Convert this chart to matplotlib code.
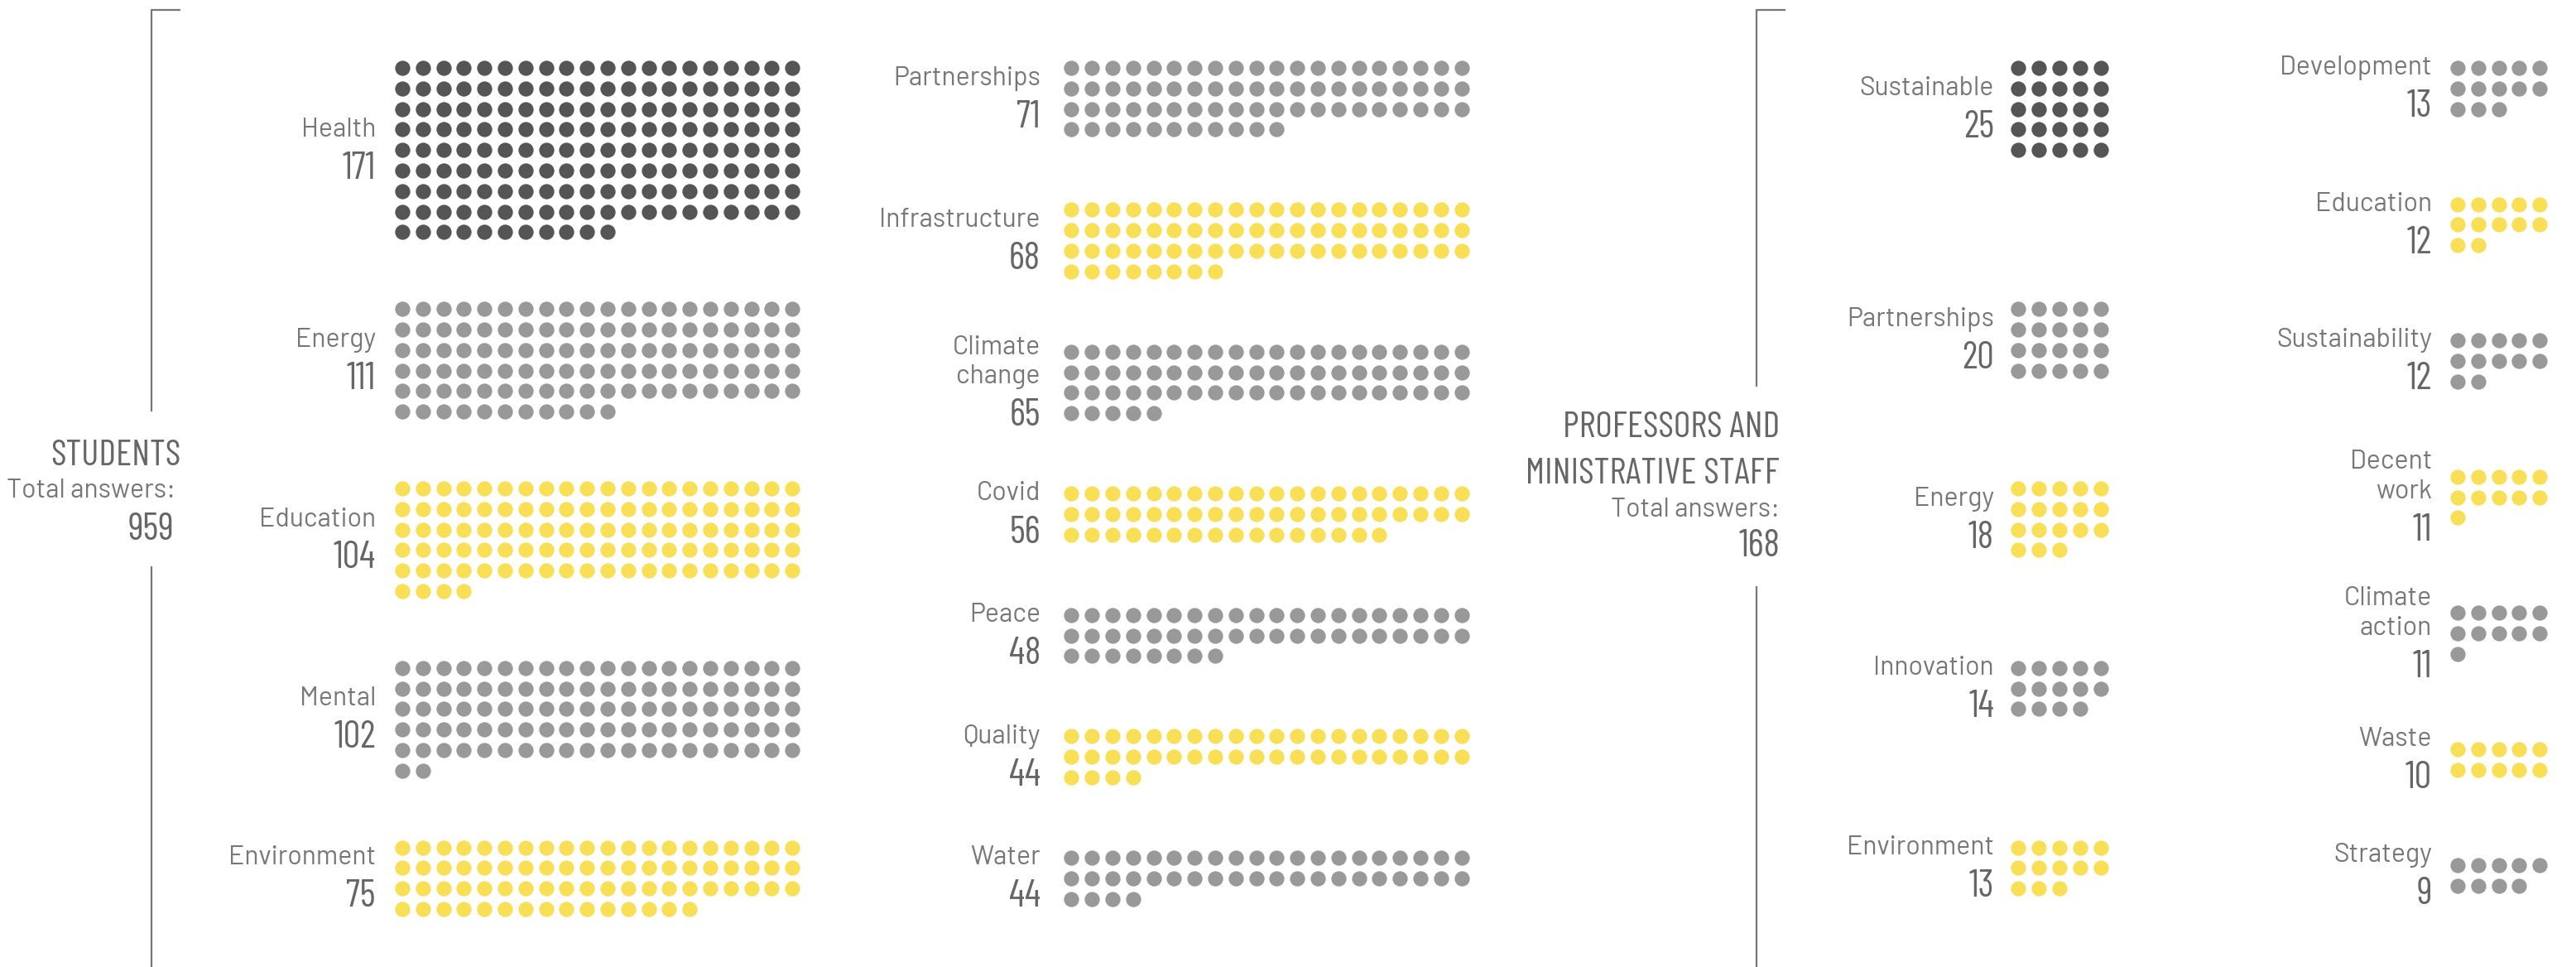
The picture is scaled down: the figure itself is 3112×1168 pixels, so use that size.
import matplotlib
matplotlib.use("Agg")
import numpy as np
import matplotlib.pyplot as plt
from matplotlib.patches import Rectangle

# data
students_labels = ["Health", "Energy", "Education", "Mental", "Environment",
                   "Partnerships", "Infrastructure", "Climate\nchange", "Covid",
                   "Peace", "Quality", "Water"]
students_values = [171, 111, 104, 102, 75, 71, 68, 65, 56, 48, 44, 44]
students_total = 959

staff_labels = ["Sustainable", "Partnerships", "Energy", "Innovation", "Environment",
                "Development", "Education", "Sustainability", "Decent\nwork",
                "Climate\naction", "Waste", "Strategy"]
staff_values = [25, 20, 18, 14, 13, 13, 12, 12, 11, 11, 10, 9]
staff_total = 168

# style
DARK = "#555555"
GRAY = "#999999"
YELLOW = "#f8df55"
LABEL_C = "#777777"
NUM_C = "#666666"
LINE_C = "#777777"
COND = ["Barlow Condensed", "Liberation Sans Narrow", "DejaVu Sans"]
REG = ["Barlow", "Roboto", "DejaVu Sans"]

W, H = 3112, 1168
PITCH = 24.8
DOT_S = 174


def dot_color(rank):
    if rank == 0:
        return DARK
    return GRAY if rank % 2 == 1 else YELLOW


def draw_block(ax, value, x0, top, per_row, color):
    idx = np.arange(value)
    xs = x0 + (idx % per_row) * PITCH
    ys = top + (idx // per_row) * PITCH
    ax.scatter(xs, ys, s=DOT_S, color=color, linewidths=0)
    return ys.max()


def draw_label(ax, text, value, xr, center):
    lines = text.split("\n")
    span = (len(lines) - 1) * 36 + 51
    b0 = center + 9 - span / 2.0
    for i, ln in enumerate(lines):
        ax.text(xr, b0 + i * 36, ln, ha="right", va="baseline", color=LABEL_C,
                fontsize=23, family=REG, weight="normal")
    ax.text(xr, b0 + span, str(value), ha="right", va="baseline", color=NUM_C,
            fontsize=33, family=COND)


def draw_column(ax, labels, values, ranks, x_dots, x_lab, per_row, top0, gap, tops=None):
    top = top0
    used = []
    for k, (lab, val, r) in enumerate(zip(labels, values, ranks)):
        if tops is not None:
            top = tops[k]
        last = draw_block(ax, val, x_dots, top, per_row, dot_color(r))
        draw_label(ax, lab, val, x_lab, (top + last) / 2.0)
        used.append(top)
        top = last + gap
    return used


fig = plt.figure(figsize=(W / 100, H / 100), dpi=100)
ax = fig.add_axes([0, 0, 1, 1])
ax.set_xlim(0, W)
ax.set_ylim(H, 0)
ax.axis("off")

# students
ranks = list(range(len(students_values)))
col1_tops = draw_column(ax, students_labels[:5], students_values[:5], ranks[:5],
                        486, 454, 20, 82, 92.8)
draw_column(ax, students_labels[5:], students_values[5:], ranks[5:],
            1294.5, 1257, 20, 82, 97)

# staff (first column shares the row slots of the students' first column)
draw_column(ax, staff_labels[:5], staff_values[:5], ranks[:5],
            2438.5, 2409, 5, 82, 0, tops=col1_tops)
draw_column(ax, staff_labels[5:], staff_values[5:], ranks[5:],
            2969, 2938, 5, 82, 115)

# brackets
for x, y_break0, y_break1 in [(183, 497, 684), (2122, 467, 708)]:
    ax.plot([x + 35, x, x], [12, 12, y_break0], color=LINE_C, lw=1.6, solid_capstyle="butt")
    ax.plot([x, x], [y_break1, H], color=LINE_C, lw=1.6, solid_capstyle="butt")

# headings
ax.text(218, 562, "STUDENTS", ha="right", va="baseline", color=NUM_C, fontsize=32, family=COND)
ax.text(212, 601, "Total answers:", ha="right", va="baseline", color=LABEL_C,
        fontsize=23, family=REG, weight="normal")
ax.text(210, 652, str(students_total), ha="right", va="baseline", color=NUM_C,
        fontsize=33, family=COND)

# the staff heading is cut at the left edge of its panel, as in the original
clip = Rectangle((1846, 0), W - 1846, H, transform=ax.transData)
t1 = ax.text(2150, 528, "PROFESSORS AND", ha="right", va="baseline", color=NUM_C,
             fontsize=32, family=COND)
t2 = ax.text(2150, 584, "ADMINISTRATIVE STAFF", ha="right", va="baseline", color=NUM_C,
             fontsize=32, family=COND)
t3 = ax.text(2150, 624, "Total answers:", ha="right", va="baseline", color=LABEL_C,
             fontsize=23, family=REG, weight="normal")
t4 = ax.text(2150, 672, str(staff_total), ha="right", va="baseline", color=NUM_C,
             fontsize=33, family=COND)
for t in (t1, t2, t3, t4):
    t.set_clip_on(True)
    t.set_clip_path(clip)

fig.savefig("out.png", dpi=100, facecolor="white")
